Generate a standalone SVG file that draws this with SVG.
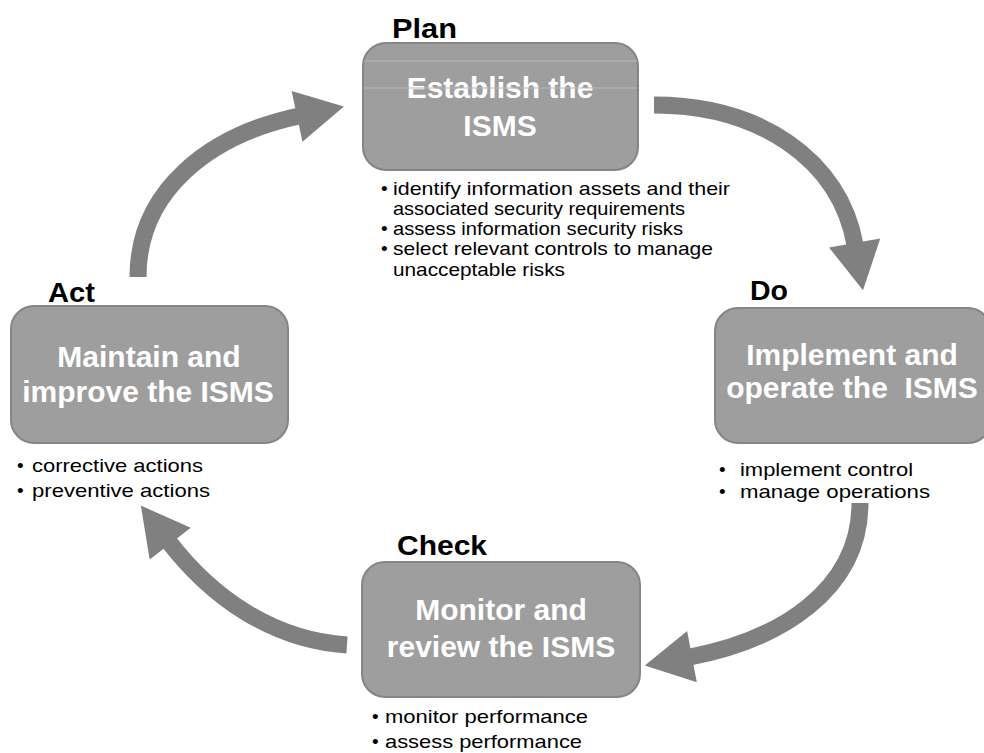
<svg xmlns="http://www.w3.org/2000/svg" width="984" height="753" viewBox="0 0 984 753">
<defs>
<style>
.box{fill:#9e9e9e;stroke:#858585;stroke-width:2}
.title{font-family:"Liberation Sans",Arial,sans-serif;font-weight:bold;font-size:30px;fill:#ffffff;text-anchor:middle}
.phase{font-family:"Liberation Sans",Arial,sans-serif;font-weight:bold;font-size:28px;fill:#000000}
.item{font-family:"Liberation Sans",Arial,sans-serif;font-size:19px;fill:#000000}
.shaft{fill:none;stroke:#808080;stroke-width:17}
.glint{stroke:#b8b8b8;stroke-width:1.2}
</style>
<marker id="head" markerUnits="userSpaceOnUse" markerWidth="50" markerHeight="52" viewBox="0 0 48 52" refX="2" refY="26" orient="auto">
<path d="M0,0 L48,26 L0,52 z" fill="#808080"/>
</marker>
</defs>
<rect width="984" height="753" fill="#ffffff"/>

<g id="connectors">
<path class="shaft" d="M654,105 C760,105 840,160 855,245" marker-end="url(#head)"/>
<path class="shaft" d="M860,503 C860,590 780,640 690,657" marker-end="url(#head)"/>
<path class="shaft" d="M347,645 C270,640 210,595 169,542" marker-end="url(#head)"/>
<path class="shaft" d="M138,277 C138,190 210,135 299,116" marker-end="url(#head)"/>
</g>

<g id="plan">
<text class="phase" x="392" y="38" textLength="65" lengthAdjust="spacingAndGlyphs">Plan</text>
<rect class="box" x="363" y="43" width="275" height="127" rx="23"/>
<text class="title" x="500" y="98">Establish the</text>
<text class="title" x="500" y="136">ISMS</text>
<line class="glint" x1="364" y1="61" x2="637" y2="61"/>
<line class="glint" x1="364" y1="88" x2="637" y2="88"/>
<text class="item" x="381" y="195">•</text>
<text class="item" x="393" y="195" textLength="337" lengthAdjust="spacingAndGlyphs">identify information  assets and their</text>
<text class="item" x="393" y="215" textLength="292" lengthAdjust="spacingAndGlyphs">associated security requirements</text>
<text class="item" x="381" y="235">•</text>
<text class="item" x="393" y="235" textLength="290" lengthAdjust="spacingAndGlyphs">assess information  security risks</text>
<text class="item" x="381" y="255">•</text>
<text class="item" x="393" y="255" textLength="320" lengthAdjust="spacingAndGlyphs">select relevant controls to manage</text>
<text class="item" x="393" y="276" textLength="172" lengthAdjust="spacingAndGlyphs">unacceptable risks</text>
</g>

<g id="do">
<text class="phase" x="750" y="300" textLength="38" lengthAdjust="spacingAndGlyphs">Do</text>
<rect class="box" x="715" y="308" width="276" height="135" rx="23"/>
<text class="title" x="852" y="365">Implement and</text>
<text class="title" x="852" y="398" xml:space="preserve">operate the  ISMS</text>
<text class="item" x="719" y="476">•</text>
<text class="item" x="740" y="476" textLength="173" lengthAdjust="spacingAndGlyphs">implement control</text>
<text class="item" x="719" y="498">•</text>
<text class="item" x="740" y="498" textLength="190" lengthAdjust="spacingAndGlyphs">manage operations</text>
</g>

<g id="check">
<text class="phase" x="397" y="555" textLength="90" lengthAdjust="spacingAndGlyphs">Check</text>
<rect class="box" x="362" y="562" width="278" height="135" rx="23"/>
<text class="title" x="501" y="620">Monitor and</text>
<text class="title" x="501" y="657">review the ISMS</text>
<text class="item" x="372" y="723">•</text>
<text class="item" x="385" y="723" textLength="203" lengthAdjust="spacingAndGlyphs">monitor performance</text>
<text class="item" x="372" y="748">•</text>
<text class="item" x="385" y="748" textLength="197" lengthAdjust="spacingAndGlyphs">assess performance</text>
</g>

<g id="act">
<text class="phase" x="48" y="302" textLength="47" lengthAdjust="spacingAndGlyphs">Act</text>
<rect class="box" x="11" y="306" width="277" height="137" rx="23"/>
<text class="title" x="149" y="367">Maintain and</text>
<text class="title" x="148" y="402">improve the ISMS</text>
<text class="item" x="17" y="472">•</text>
<text class="item" x="32" y="472" textLength="171" lengthAdjust="spacingAndGlyphs">corrective actions</text>
<text class="item" x="17" y="497">•</text>
<text class="item" x="32" y="497" textLength="178" lengthAdjust="spacingAndGlyphs">preventive actions</text>
</g>
</svg>
